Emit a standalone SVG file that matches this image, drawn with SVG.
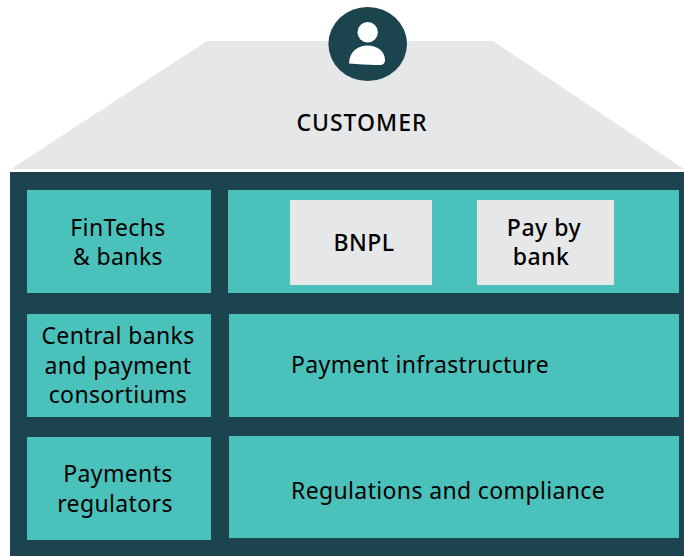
<svg xmlns="http://www.w3.org/2000/svg" width="684" height="556" viewBox="0 0 684 556">
<style>
text{font-family:"Noto Sans","Open Sans",sans-serif;font-size:23px;fill:#000;text-anchor:middle;letter-spacing:.36px}
.t{fill:#4bc1bb}.g{fill:#e6e7e9}.d{fill:#1b444e}
.l{text-anchor:start}
.m{font-weight:500;letter-spacing:.5px}
</style>
<rect width="684" height="556" fill="#fff"/>
<g id="roof"><polygon class="g" points="207,41 493,41 684,169 11,169"/></g>
<g id="customer">
<ellipse class="d" cx="367.7" cy="44" rx="39.3" ry="37"/>
<circle cx="367.7" cy="32.2" r="10.2" fill="#fff"/>
<path d="M349,63.6 C349.5,52 357,45.6 367.5,45.6 S385,52 385,60 C385,63.5 383,65 380,65 C370,65.5 360,64 349,63.6 Z" fill="#fff"/>
<text class="m" x="362" y="131" style="letter-spacing:1px">CUSTOMER</text>
</g>
<g id="frame"><rect class="d" x="10" y="172" width="674" height="384"/></g>
<g id="fintechs"><rect class="t" x="27" y="190" width="184" height="103"/><text x="118" y="236">FinTechs</text><text x="118" y="265">&amp; banks</text></g>
<g id="products"><rect class="t" x="228" y="190" width="451" height="103"/></g>
<g id="bnpl"><rect class="g" x="290" y="200" width="142" height="85"/><text class="m" x="364" y="251">BNPL</text></g>
<g id="paybybank"><rect class="g" x="477" y="200" width="137" height="85"/><text class="m" x="544" y="236">Pay by</text><text class="m" x="541" y="265">bank</text></g>
<g id="central"><rect class="t" x="27" y="314" width="184" height="103"/><text x="118" y="344">Central banks</text><text x="118" y="374">and payment</text><text x="118" y="403">consortiums</text></g>
<g id="infrastructure"><rect class="t" x="229" y="314" width="450" height="103"/><text class="l" x="291" y="373">Payment infrastructure</text></g>
<g id="regulators"><rect class="t" x="27" y="437" width="184" height="103"/><text x="118" y="482">Payments</text><text x="115" y="512">regulators</text></g>
<g id="regulations"><rect class="t" x="229" y="436" width="450" height="102"/><text class="l" x="291" y="499">Regulations and compliance</text></g>
<g id="connectors"></g>
</svg>
